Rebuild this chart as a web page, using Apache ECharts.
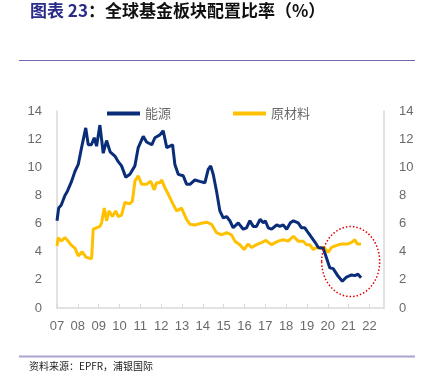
<!DOCTYPE html>
<html><head><meta charset="utf-8">
<script src="https://cdn.jsdelivr.net/npm/echarts@6/dist/echarts.min.js"></script>
<style>html,body{margin:0;padding:0;background:#fff}#c{width:426px;height:392px}</style>
</head><body><div id="c"></div>
<script>
const seriesNames = ['能源', '原材料'];
const xTicks = ['07','08','09','10','11','12','13','14','15','16','17','18','19','20','21','22'];
const yTicks = [0, 2, 4, 6, 8, 10, 12, 14];
const energy = [
[2007.00,6.2],[2007.08,7.1],[2007.2,7.3],[2007.38,8.0],[2007.5,8.3],[2007.7,9.0],[2007.86,9.7],
[2008.02,10.2],[2008.18,11.4],[2008.38,12.8],[2008.5,11.6],[2008.65,11.6],[2008.79,12.1],[2008.9,11.5],
[2009.06,13.0],[2009.22,11.0],[2009.38,11.9],[2009.55,11.1],[2009.78,10.8],[2009.94,10.4],
[2010.1,10.1],[2010.3,9.3],[2010.5,9.5],[2010.74,10.1],[2010.9,11.4],[2011.14,12.2],[2011.3,11.8],
[2011.55,11.6],[2011.7,12.1],[2011.94,12.3],[2012.1,12.6],[2012.27,11.4],[2012.42,11.5],[2012.55,11.6],
[2012.66,10.2],[2012.82,9.5],[2013.06,9.4],[2013.22,8.8],[2013.4,8.8],[2013.62,9.1],[2013.85,9.0],
[2014.1,8.9],[2014.26,9.85],[2014.38,10.1],[2014.5,9.5],[2014.66,8.3],[2014.82,6.9],[2014.98,6.4],
[2015.14,6.5],[2015.3,6.2],[2015.46,5.7],[2015.7,6.05],[2015.94,5.6],[2016.1,5.7],[2016.26,6.2],
[2016.42,5.8],[2016.58,5.8],[2016.75,6.3],[2016.9,6.05],[2017.0,6.2],[2017.14,5.7],[2017.3,5.6],
[2017.55,5.9],[2017.7,5.8],[2017.86,5.9],[2018.03,5.6],[2018.2,6.05],[2018.35,6.2],[2018.58,6.05],
[2018.74,5.7],[2018.9,5.7],[2019.06,5.35],[2019.23,5.0],[2019.4,4.65],[2019.55,4.3],[2019.78,4.25],
[2019.94,3.55],[2020.1,2.85],[2020.26,2.8],[2020.5,2.25],[2020.7,1.9],[2020.9,2.2],[2021.14,2.35],
[2021.3,2.3],[2021.45,2.4],[2021.6,2.15]
];
const materials = [
[2007.0,4.4],[2007.06,5.0],[2007.2,4.75],[2007.38,5.0],[2007.54,4.75],[2007.66,4.5],[2007.86,4.25],
[2008.02,3.7],[2008.2,4.0],[2008.4,3.6],[2008.66,3.5],[2008.74,5.6],[2008.9,5.7],[2009.06,5.8],
[2009.14,6.05],[2009.27,7.1],[2009.38,6.2],[2009.5,6.9],[2009.66,6.5],[2009.82,6.9],[2009.94,6.5],
[2010.1,6.6],[2010.26,7.5],[2010.5,7.4],[2010.62,7.6],[2010.74,9.0],[2010.9,9.4],[2011.06,8.8],
[2011.3,8.8],[2011.5,9.0],[2011.67,8.4],[2011.78,8.9],[2011.94,8.9],[2012.02,9.1],[2012.18,8.55],
[2012.34,8.1],[2012.5,7.6],[2012.74,6.9],[2012.98,7.1],[2013.22,6.3],[2013.38,5.95],[2013.62,5.9],
[2013.86,6.0],[2014.18,6.1],[2014.42,5.95],[2014.66,5.35],[2014.9,5.2],[2015.14,5.35],[2015.38,5.2],
[2015.54,4.75],[2015.78,4.5],[2015.98,4.15],[2016.18,4.55],[2016.34,4.3],[2016.58,4.5],[2016.82,4.65],
[2017.03,4.8],[2017.3,4.5],[2017.62,4.75],[2017.86,4.85],[2018.1,4.75],[2018.35,5.1],[2018.58,4.75],
[2018.82,4.75],[2018.98,4.5],[2019.14,4.5],[2019.3,4.15],[2019.46,4.3],[2019.62,4.25],[2019.83,4.3],
[2020.02,3.95],[2020.18,4.3],[2020.42,4.45],[2020.66,4.55],[2020.98,4.55],[2021.18,4.7],[2021.3,4.85],
[2021.42,4.55],[2021.6,4.55]
];
const highlightCenter = [2021.1, 3.3];

const chart = echarts.init(document.getElementById('c'));
const axisFont = {color:'#6a6a6a', fontSize:13, fontFamily:'Liberation Sans'};
const yAxisBase = {
  type:'value', min:yTicks[0], max:yTicks[yTicks.length-1], interval:2,
  splitLine:{show:false}, axisTick:{show:false},
  axisLine:{show:true, lineStyle:{color:'#d9d9d9', width:1.5}},
  axisLabel:Object.assign({margin:15}, axisFont)
};
chart.setOption({
  animation:false,
  grid:{left:57, right:42, top:111, bottom:84, containLabel:false},
  legend:{
    left:102, top:102, itemWidth:33, itemHeight:4, itemGap:62, icon:'rect',
    textStyle:{color:'#6a6a6a', fontSize:13, fontFamily:'Noto Sans CJK SC', padding:[0,0,0,0]},
    data:seriesNames
  },
  xAxis:{
    type:'value', min:2007, max:2022.7, interval:1,
    splitLine:{show:false},
    axisLine:{lineStyle:{color:'#d9d9d9', width:1.5}},
    axisTick:{show:true, inside:true, length:4, lineStyle:{color:'#d9d9d9'}},
    axisLabel:Object.assign({margin:12, showMaxLabel:false, formatter:function(v){
      const i = Math.round(v - 2007);
      return Math.abs(v - Math.round(v)) < 1e-6 && xTicks[i] ? xTicks[i] : '';
    }}, axisFont)
  },
  yAxis:[Object.assign({position:'left'}, yAxisBase), Object.assign({position:'right'}, yAxisBase)],
  series:[
    {name:seriesNames[0], type:'line', data:energy, showSymbol:false, symbol:'none',
     lineStyle:{color:'#0a2d7a', width:3}, itemStyle:{color:'#0a2d7a'}},
    {name:seriesNames[1], type:'line', data:materials, showSymbol:false, symbol:'none',
     lineStyle:{color:'#ffc000', width:3}, itemStyle:{color:'#ffc000'}, z:1}
  ]
});
const c = chart.convertToPixel({gridIndex:0}, highlightCenter);
chart.setOption({
  graphic:[
    {type:'text', left:30, top:2, style:{
      text:'{a|图表 23}{b|：全球基金板块配置比率（%）}',
      rich:{
        a:{fill:'#2b2b8a', fontSize:17, fontWeight:'bold', fontFamily:'Noto Sans CJK SC'},
        b:{fill:'#111', fontSize:17, fontWeight:'bold', fontFamily:'Noto Sans CJK SC'}
      }}},
    {type:'line', shape:{x1:19, y1:60.5, x2:415, y2:60.5}, style:{stroke:'#7469ad', lineWidth:1}},
    {type:'line', shape:{x1:19, y1:356.5, x2:415, y2:356.5}, style:{stroke:'#a9a3cf', lineWidth:2}},
    {type:'text', left:29, top:361, style:{text:'资料来源：EPFR，浦银国际', fill:'#222', fontSize:10, fontFamily:'Noto Sans CJK SC'}},
    {type:'ellipse', shape:{cx:c[0], cy:c[1], rx:29, ry:35}, z:100,
     style:{fill:'none', stroke:'#e00000', lineWidth:1.5, lineDash:[1.5,2]}}
  ]
});
</script></body></html>
